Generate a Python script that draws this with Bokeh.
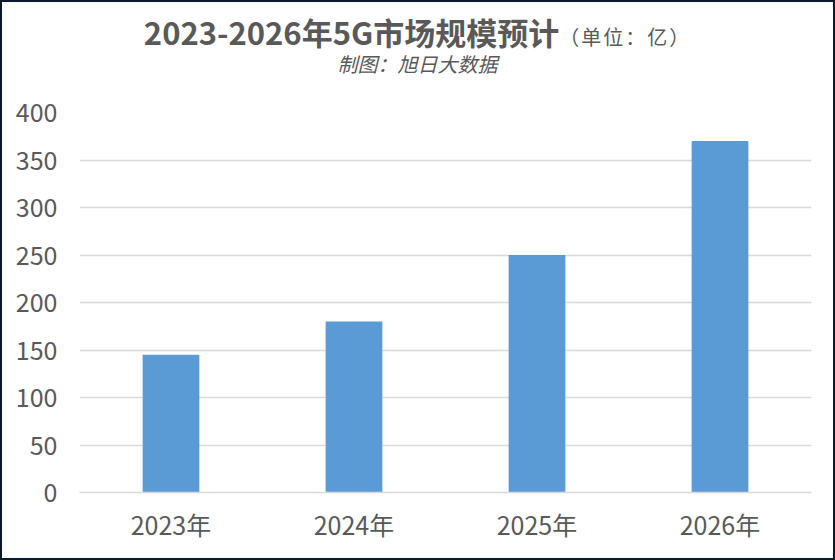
from bokeh.plotting import figure
from bokeh.models import Range1d, FactorRange, SingleIntervalTicker, ColumnDataSource, Div
from bokeh.layouts import column
from bokeh.embed import file_html
from bokeh.resources import INLINE

years = ["2023年", "2024年", "2025年", "2026年"]
values = [145, 180, 250, 370]
title_main = "2023-2026年5G市场规模预计"
title_unit = "（单位：亿）"
subtitle = "制图：旭日大数据"

FONT = "Noto Sans CJK SC"
TXT = "#595959"

src = ColumnDataSource(data=dict(x=years, top=values))

p = figure(width=831, height=466, x_range=FactorRange(*years, range_padding=0),
           y_range=Range1d(0, 400), output_backend="svg", toolbar_location=None,
           min_border_top=20, min_border_left=77, min_border_right=22, min_border_bottom=66)
p.vbar(x="x", top="top", width=0.31, source=src, fill_color="#5b9bd5", line_color=None)

p.outline_line_color = None
p.background_fill_color = "white"
p.border_fill_color = "white"
p.xgrid.grid_line_color = None
p.ygrid.grid_line_color = "#d9d9d9"
p.ygrid.grid_line_width = 1.5
p.yaxis.ticker = SingleIntervalTicker(interval=50)

for ax in (p.xaxis, p.yaxis):
    ax.major_tick_line_color = None
    ax.minor_tick_line_color = None
    ax.major_label_text_font = FONT
    ax.major_label_text_color = TXT
    ax.major_label_text_font_size = "25px"
p.yaxis.axis_line_color = None
p.xaxis.axis_line_color = "#d9d9d9"
p.xaxis.axis_line_width = 1.5
p.yaxis.major_label_standoff = 16
p.xaxis.major_label_standoff = 7

html = (
    f'<div style="position:relative;width:831px;height:90px;font-family:\'{FONT}\';color:{TXT};">'
    f'<div style="position:absolute;top:14px;left:0;width:831px;height:32px;text-align:center;line-height:32px;white-space:nowrap;">'
    f'<span style="display:inline-block;line-height:32px;height:32px;font-weight:bold;font-size:31px;">{title_main}</span>'
    f'<span style="display:inline-block;line-height:32px;height:32px;font-size:20px;letter-spacing:2px;">{title_unit}</span></div>'
    f'<div style="position:absolute;top:51px;left:0;width:831px;height:22px;text-align:center;line-height:22px;white-space:nowrap;">'
    f'<span style="display:inline-block;line-height:22px;height:22px;font-style:italic;font-size:20px;">{subtitle}</span></div>'
    f'</div>'
)
header = Div(text=html, width=831, height=90, margin=0)

layout = column(header, p, spacing=0, styles={"border": "2px solid #0b1a2b", "background": "white"})

open("out.html", "w").write(file_html(layout, INLINE))
